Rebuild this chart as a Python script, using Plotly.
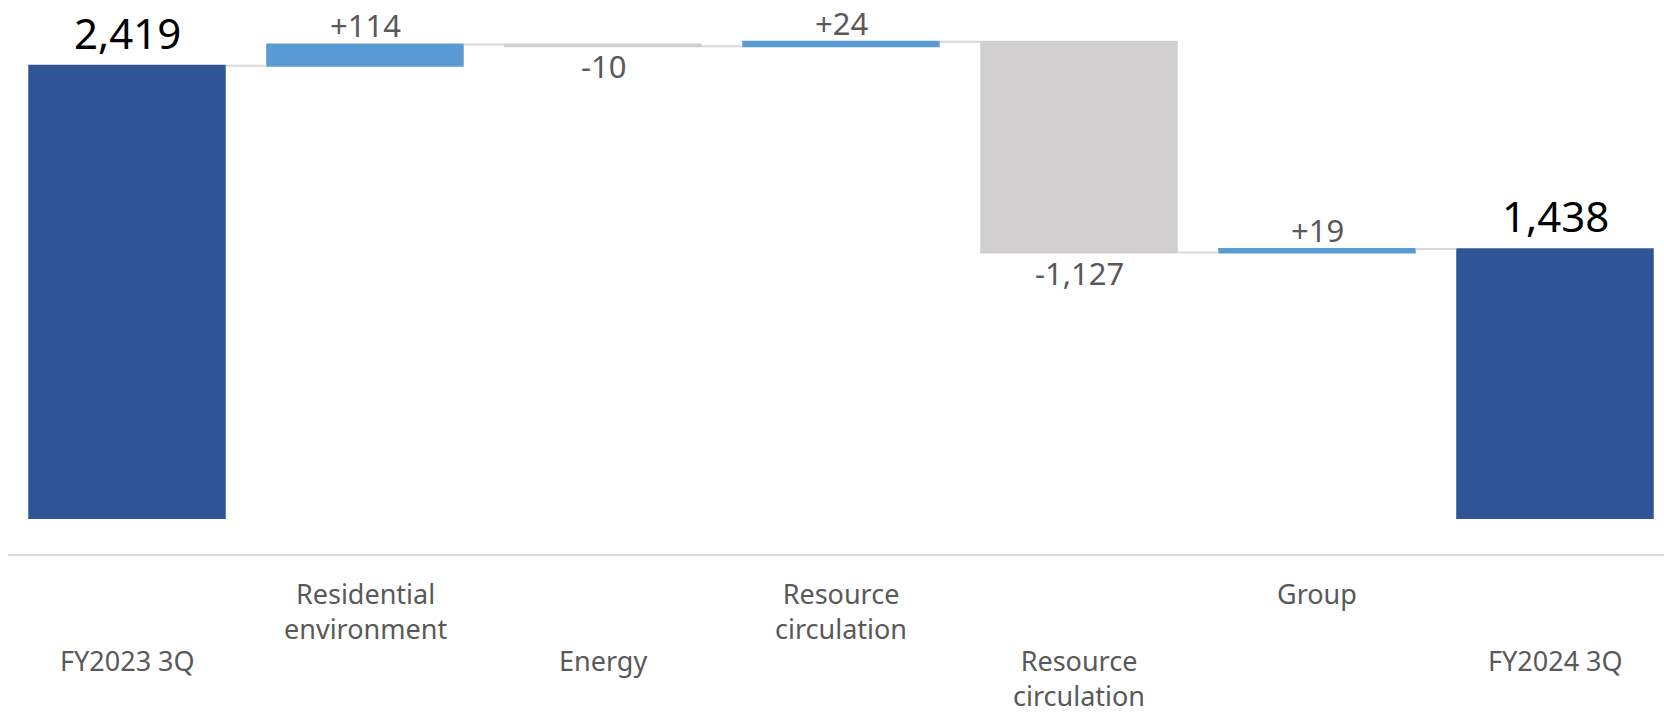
import numpy as np
import plotly.graph_objects as go

# Operating profit bridge, FY2023 3Q -> FY2024 3Q
categories = ["FY2023 3Q", "Residential<br>environment", "Energy",
              "Resource<br>circulation", "Resource<br>circulation", "Group", "FY2024 3Q"]
values = [2419, 114, -10, 24, -1127, 19, 1438]
measures = ["absolute", "relative", "relative", "relative", "relative", "relative", "absolute"]
value_labels = ["2,419", "+114", "-10", "+24", "-1,127", "+19", "1,438"]
label_row = [1, 0, 1, 0, 1, 0, 1]   # staggered category label rows

FONT = "Noto Sans, sans-serif"
TOTAL_C = "#2F5597"
UP_C = "#5B9BD5"
DOWN_C = "#D0CECE"

x = list(range(len(categories)))

fig = go.Figure(go.Waterfall(
    x=x, y=values, measure=measures,
    totals=dict(marker=dict(color=TOTAL_C)),
    increasing=dict(marker=dict(color=UP_C)),
    decreasing=dict(marker=dict(color=DOWN_C)),
    connector=dict(line=dict(color="#D9D9D9", width=2)),
    textposition="none",
    hoverinfo="skip",
))

# running levels for value labels
level = 0.0
annotations = []
for i, (v, m, lab) in enumerate(zip(values, measures, value_labels)):
    if m == "absolute":
        start, end = 0.0, float(v)
        level = float(v)
    else:
        start, end = level, level + v
        level = end
    top, bottom = max(start, end), min(start, end)
    if m == "absolute":
        annotations.append(dict(x=i, y=top, xref="x", yref="y", text=lab, showarrow=False,
                                yanchor="bottom", yshift=3,
                                font=dict(family=FONT, size=42, color="#000000")))
    elif v >= 0:
        annotations.append(dict(x=i, y=top, xref="x", yref="y", text=lab, showarrow=False,
                                yanchor="bottom", yshift=-4,
                                font=dict(family=FONT, size=31, color="#595959")))
    else:
        annotations.append(dict(x=i, y=bottom, xref="x", yref="y", text=lab, showarrow=False,
                                yanchor="top", yshift=3,
                                font=dict(family=FONT, size=31, color="#595959")))

for i, (cat, row) in enumerate(zip(categories, label_row)):
    annotations.append(dict(x=i, y=0, xref="x", yref="paper", text=cat, showarrow=False,
                            yanchor="top", yshift=-19 - 67 * row,
                            font=dict(family=FONT, size=27, color="#595959")))

fig.update_layout(
    width=1664, height=712,
    margin=dict(l=8, r=0, t=0, b=158),
    paper_bgcolor="white", plot_bgcolor="white",
    showlegend=False,
    waterfallgap=0.17,
    annotations=annotations,
    xaxis=dict(range=[-0.5, 6.458], showticklabels=False, showgrid=False, zeroline=False,
               showline=True, linecolor="#D9D9D9", linewidth=2, ticks=""),
    yaxis=dict(range=[-193, 2771], visible=False, showgrid=False, zeroline=False),
)

fig.write_html("out.html")
